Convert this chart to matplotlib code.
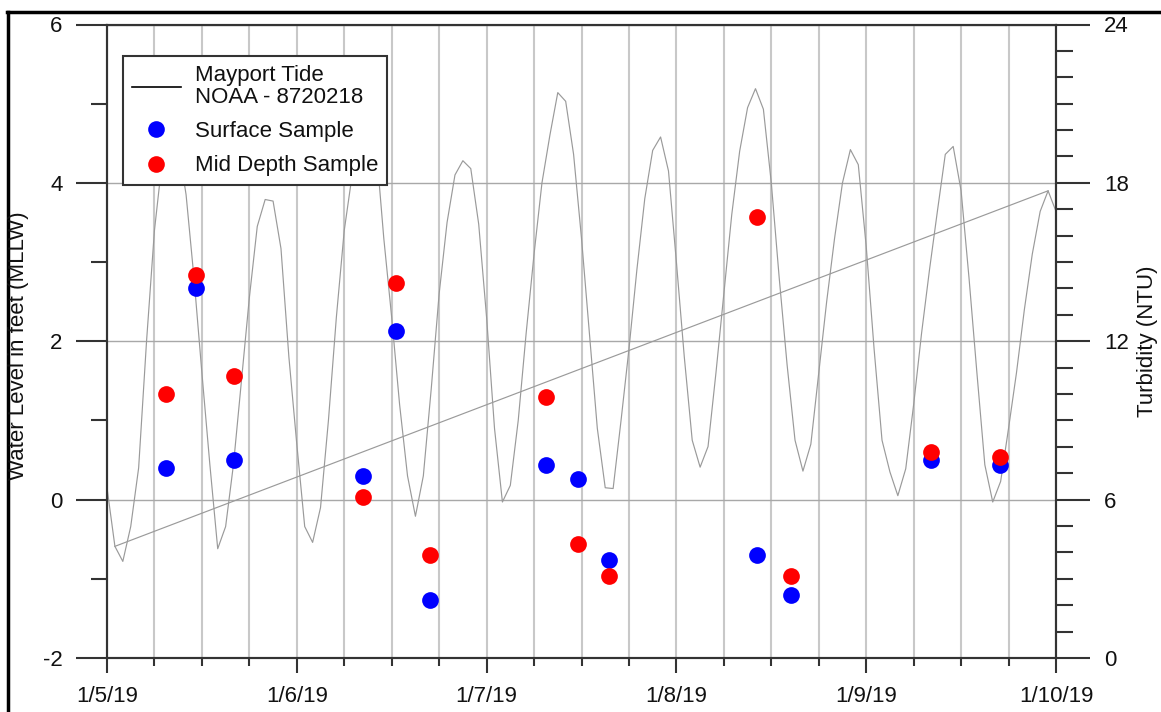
import datetime as dt

import matplotlib.pyplot as plt
import matplotlib.dates as mdates
import matplotlib.ticker as mticker
import numpy as np
import pandas as pd
from matplotlib.lines import Line2D

plt.rcParams['font.family'] = ['Liberation Sans', 'DejaVu Sans']
plt.rcParams['axes.unicode_minus'] = False

# Mayport tide (ft MLLW), hourly from 1/5/19 00:00
tide_start = "2019-01-05 00:00"
tide_ft = [
    0.15, -0.59, -0.78, -0.34, 0.40, 2.00, 3.40, 4.30, 4.70, 4.50,
    3.85, 2.80, 1.60, 0.45, -0.62, -0.34, 0.45, 1.50, 2.55, 3.45,
    3.79, 3.77, 3.17, 1.80, 0.70, -0.34, -0.54, -0.10, 1.00, 2.30,
    3.40, 4.10, 4.70, 4.90, 4.50, 3.30, 2.30, 1.20, 0.30, -0.21,
    0.30, 1.40, 2.60, 3.50, 4.10, 4.28, 4.18, 3.48, 2.30, 0.90,
    -0.03, 0.18, 1.00, 2.10, 3.10, 4.00, 4.60, 5.14, 5.03, 4.36,
    3.30, 2.10, 0.90, 0.15, 0.14, 1.00, 1.90, 2.90, 3.80, 4.41,
    4.58, 4.15, 3.00, 1.80, 0.75, 0.41, 0.67, 1.60, 2.60, 3.60,
    4.40, 4.95, 5.19, 4.93, 4.00, 2.80, 1.70, 0.75, 0.36, 0.70,
    1.60, 2.50, 3.30, 4.00, 4.42, 4.23, 3.20, 1.90, 0.75, 0.35,
    0.05, 0.39, 1.20, 2.10, 2.90, 3.64, 4.36, 4.46, 3.90, 2.80,
    1.60, 0.44, -0.03, 0.23, 0.90, 1.60, 2.40, 3.10, 3.64, 3.90,
    3.64,
]
# the stray straight segment joins these two tide points
chord_idx = [1, 119]

# turbidity samples (NTU)
sample_times = [
    "2019-01-05 07:30", "2019-01-05 11:15", "2019-01-05 16:00",
    "2019-01-06 08:20", "2019-01-06 12:35", "2019-01-06 16:50",
    "2019-01-07 07:30", "2019-01-07 11:30", "2019-01-07 15:30",
    "2019-01-08 10:10", "2019-01-08 14:30",
    "2019-01-09 08:10", "2019-01-09 16:55",
]
surface_ntu = [7.2, 14.0, 7.5, 6.9, 12.4, 2.2, 7.3, 6.8, 3.7, 3.9, 2.4, 7.5, 7.3]
mid_ntu = [10.0, 14.5, 10.7, 6.1, 14.2, 3.9, 9.9, 4.3, 3.1, 16.7, 3.1, 7.8, 7.6]

tide_time = pd.date_range(tide_start, periods=len(tide_ft), freq="h")
tide_arr = np.array(tide_ft)
s_time = pd.to_datetime(sample_times)

W, H = 1161, 712
FS = 16
fig = plt.figure(figsize=(W / 100, H / 100), dpi=100)
ax = fig.add_axes([107 / W, 1 - 658 / H, (1056 - 107) / W, (658 - 24.5) / H])
ax2 = ax.twinx()

spine_c = '#333333'
text_c = '#111111'
tide_c = '#9a9a9a'

# tide
ax.plot(tide_time, tide_arr, color=tide_c, lw=0.85, zorder=3)
ax.plot(tide_time[chord_idx], tide_arr[chord_idx], color=tide_c, lw=0.85, zorder=3)

ax.set_xlim(pd.Timestamp("2019-01-05"), pd.Timestamp("2019-01-10"))
ax.set_ylim(-2, 6)
ax2.set_ylim(0, 24)

ax.xaxis.set_major_locator(mdates.DayLocator())
ax.xaxis.set_minor_locator(mdates.HourLocator(byhour=[6, 12, 18]))
ax.xaxis.set_major_formatter(mticker.FuncFormatter(
    lambda v, p: "{d.month}/{d.day}/{y}".format(d=mdates.num2date(v), y=mdates.num2date(v).year % 100)))
ax.yaxis.set_major_locator(mticker.MultipleLocator(2))
ax.yaxis.set_minor_locator(mticker.MultipleLocator(1))
ax2.yaxis.set_major_locator(mticker.MultipleLocator(6))
ax2.yaxis.set_minor_locator(mticker.MultipleLocator(1))

ax.xaxis.grid(True, which='both', color='#c8c8c8', lw=1.5, zorder=0)
ax.yaxis.grid(True, which='major', color='#a8a8a8', lw=1.0, zorder=0)
ax.set_axisbelow(True)

ax.tick_params(axis='y', which='major', length=22, width=1.5, pad=10, labelsize=FS,
               color=spine_c, labelcolor=text_c)
ax.tick_params(axis='y', which='minor', length=11.5, width=1.5, color=spine_c)
ax.tick_params(axis='x', which='major', length=11, width=1.5, pad=9, labelsize=FS,
               color=spine_c, labelcolor=text_c)
ax.tick_params(axis='x', which='minor', length=6, width=1.5, color=spine_c)
ax2.tick_params(axis='y', which='major', length=24.5, width=1.5, pad=10, labelsize=FS,
                color=spine_c, labelcolor=text_c)
ax2.tick_params(axis='y', which='minor', length=12, width=1.5, color=spine_c)

for a in (ax, ax2):
    for sp in a.spines.values():
        sp.set_color(spine_c)
        sp.set_linewidth(1.5)

# samples
ax2.scatter(s_time, surface_ntu, s=145, color='#0000ff', linewidths=0, zorder=4)
ax2.scatter(s_time, mid_ntu, s=145, color='#ff0000', linewidths=0, zorder=5)

fig.text(19 / W, 1 - 346 / H, "Water Level in feet (MLLW)", rotation=90,
         ha='center', va='center', fontsize=FS, color=text_c)
fig.text(1147 / W, 1 - 341 / H, "Turbidity (NTU)", rotation=90,
         ha='center', va='center', fontsize=FS, color=text_c)

handles = [
    Line2D([], [], color='black', lw=1.2),
    Line2D([], [], ls='', marker='o', markersize=12, markerfacecolor='#0000ff', markeredgewidth=0),
    Line2D([], [], ls='', marker='o', markersize=12, markerfacecolor='#ff0000', markeredgewidth=0),
]
labels = ["Mayport Tide\nNOAA - 8720218", "Surface Sample", "Mid Depth Sample"]
leg = ax2.legend(handles, labels, loc='upper left',
                 bbox_to_anchor=(123 / W, 1 - 56 / H), bbox_transform=fig.transFigure,
                 borderaxespad=0, fancybox=False, framealpha=1, edgecolor=spine_c,
                 fontsize=FS, borderpad=0.4, handlelength=2.2, handletextpad=0.65,
                 labelspacing=0.6)
leg.get_frame().set_linewidth(1.5)
leg.set_zorder(10)
for t in leg.get_texts():
    t.set_linespacing(1.05)
    t.set_color(text_c)

# outer frame of the screenshot (top and left edges)
fig.add_artist(Line2D([7 / W, 1], [1 - 11.5 / H, 1 - 11.5 / H], transform=fig.transFigure,
                      color='black', lw=2.5))
fig.add_artist(Line2D([8 / W, 8 / W], [0, 1 - 11.5 / H], transform=fig.transFigure,
                      color='black', lw=2.5))

fig.savefig("out.png", dpi=100)
